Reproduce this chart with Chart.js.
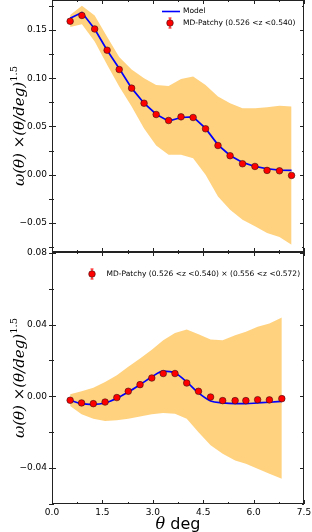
<!DOCTYPE html>
<html><head><meta charset="utf-8">
<script src="https://cdn.jsdelivr.net/npm/chart.js@4/dist/chart.umd.min.js"></script>
<style>
html,body{margin:0;padding:0;background:#fff;width:312px;height:532px;overflow:hidden}
#c1{position:absolute;left:0;top:0}
#c2{position:absolute;left:0;top:240px}
</style></head><body>
<canvas id="c2" width="312" height="292"></canvas>
<canvas id="c1" width="312" height="253"></canvas>
<script>
// ---------- data ----------
const topTheta = [0.54,0.89,1.27,1.64,2.00,2.37,2.74,3.10,3.47,3.84,4.20,4.57,4.94,5.30,5.67,6.04,6.40,6.77,7.13];
const topMocks = [0.159,0.165,0.151,0.129,0.109,0.0897,0.0741,0.0624,0.0562,0.060,0.0593,0.0476,0.0303,0.0197,0.0114,0.0086,0.0045,0.0041,-0.0007];
const topModel = [0.162,0.168,0.151,0.129,0.110,0.0897,0.0741,0.0627,0.0555,0.0593,0.0600,0.0480,0.0310,0.0200,0.0128,0.0086,0.0062,0.0048,0.0045];
const topBandUpper = [0.1655,0.175,0.165,0.143,0.122,0.109,0.100,0.093,0.092,0.0993,0.1017,0.093,0.081,0.074,0.069,0.069,0.070,0.0714,0.0707];
const topBandLower = [0.153,0.156,0.138,0.114,0.0914,0.0707,0.048,0.0303,0.0207,0.0207,0.0172,0.0,-0.0224,-0.0362,-0.0466,-0.0534,-0.0603,-0.0645,-0.0724];

const botTheta = [0.54,0.88,1.23,1.58,1.93,2.27,2.62,2.97,3.31,3.66,4.01,4.36,4.72,5.08,5.45,5.77,6.12,6.47,6.84];
const botMocks = [-0.0022,-0.0037,-0.0041,-0.0032,-0.0007,0.0028,0.0065,0.0102,0.0127,0.0127,0.0074,0.0028,-0.0004,-0.0024,-0.0024,-0.0024,-0.0019,-0.0020,-0.0013];
const botModel = [-0.0022,-0.0041,-0.0045,-0.0037,-0.0011,0.0024,0.0065,0.0108,0.0140,0.0130,0.0080,0.0019,-0.0026,-0.0037,-0.0041,-0.0041,-0.0037,-0.0033,-0.0028];
const botBandUpper = [0.0011,0.0028,0.0048,0.008,0.0117,0.0164,0.021,0.026,0.0313,0.0353,0.0372,0.0346,0.0316,0.0313,0.034,0.036,0.0387,0.0405,0.0439];
const botBandLower = [-0.0054,-0.010,-0.0125,-0.0138,-0.0134,-0.0125,-0.0112,-0.010,-0.0093,-0.0097,-0.0125,-0.020,-0.0273,-0.032,-0.0357,-0.0376,-0.0404,-0.0432,-0.046];

const xTicks = [0,1.5,3,4.5,6,7.5];
const xTickLabels = ['0.0','1.5','3.0','4.5','6.0','7.5'];
const xMinorTicks = [0.75,2.25,3.75,5.25,6.75];
const topYTicks = [-0.05,0,0.05,0.10,0.15];
const topYTickLabels = ['\u22120.05','0.00','0.05','0.10','0.15'];
const topYMinorTicks = [-0.075,-0.025,0.025,0.075,0.125,0.175];
const botYTicks = [-0.04,0,0.04,0.08];
const botYTickLabels = ['\u22120.04','0.00','0.04','0.08'];
const botYMinorTicks = [-0.06,-0.02,0.02,0.06];
const topLegend = ['Model','MD-Patchy (0.526 <z <0.540)'];
const botLegend = ['MD-Patchy (0.526 <z <0.540) \u00d7 (0.556 <z <0.572)'];

// ---------- helpers ----------
Chart.defaults.font.family = "'DejaVu Sans', sans-serif";
Chart.defaults.font.size = 9;
Chart.defaults.color = '#000';
const BAND = '#ffd280';
const pts = (xs, ys) => xs.map((x, i) => ({x, y: ys[i]}));

function drawYTitle(ctx, x, cy) {
  const parts = [
    {t: '\u03c9(\u03b8) ', f: "italic 15px 'DejaVu Serif'", dy: 0},
    {t: '\u00d7', f: "15px 'DejaVu Serif'", dy: 0},
    {t: '(\u03b8/deg)', f: "italic 15px 'DejaVu Serif'", dy: 0},
    {t: '1.5', f: "10px 'DejaVu Serif'", dy: -7}
  ];
  ctx.save();
  let total = 0;
  parts.forEach(p => { ctx.font = p.f; p.w = ctx.measureText(p.t).width; total += p.w; });
  ctx.translate(x, cy);
  ctx.rotate(-Math.PI / 2);
  ctx.fillStyle = '#000';
  ctx.textBaseline = 'alphabetic';
  ctx.textAlign = 'left';
  let cx = -total / 2;
  parts.forEach(p => { ctx.font = p.f; ctx.fillText(p.t, cx, p.dy); cx += p.w; });
  ctx.restore();
}

function markerAt(ctx, x, y) {
  ctx.save();
  ctx.strokeStyle = '#ff0000';
  ctx.lineWidth = 1;
  ctx.beginPath(); ctx.moveTo(x, y - 5); ctx.lineTo(x, y + 5);
  ctx.moveTo(x - 1.5, y - 5); ctx.lineTo(x + 1.5, y - 5);
  ctx.moveTo(x - 1.5, y + 5); ctx.lineTo(x + 1.5, y + 5);
  ctx.stroke();
  ctx.beginPath(); ctx.arc(x, y, 3.3, 0, Math.PI * 2);
  ctx.fillStyle = '#ff0000'; ctx.fill();
  ctx.strokeStyle = '#3a1010'; ctx.lineWidth = 0.6; ctx.stroke();
  ctx.restore();
}

function framePlugin(opts) {
  return {
    id: 'frame',
    afterDraw(chart) {
      const ctx = chart.ctx, a = chart.chartArea;
      const xs = chart.scales.x, ys = chart.scales.y;
      ctx.save();
      ctx.strokeStyle = '#222';
      ctx.lineWidth = 1;
      ctx.strokeRect(a.left + 0.5, a.top + 0.5, a.right - a.left - 1, a.bottom - a.top - 1);
      ctx.beginPath();
      const tickX = (v, len) => {
        const p = Math.round(xs.getPixelForValue(v)) + 0.5;
        if (p < a.left - 1 || p > a.right + 1) return;
        ctx.moveTo(p, a.bottom); ctx.lineTo(p, a.bottom - len);
        ctx.moveTo(p, a.top); ctx.lineTo(p, a.top + len);
      };
      const tickY = (v, len) => {
        const p = Math.round(ys.getPixelForValue(v)) + 0.5;
        if (p < a.top - 1 || p > a.bottom + 1) return;
        ctx.moveTo(a.left - 3, p); ctx.lineTo(a.left + len, p);
        ctx.moveTo(a.right, p); ctx.lineTo(a.right - len, p);
      };
      xTicks.forEach(v => tickX(v, 4));
      xMinorTicks.forEach(v => tickX(v, 2));
      opts.yTicks.forEach(v => tickY(v, 4));
      opts.yMinor.forEach(v => tickY(v, 2));
      ctx.stroke();
      ctx.restore();
      // y title
      drawYTitle(ctx, 24, (a.top + a.bottom) / 2);
      // legend
      ctx.save();
      ctx.font = "7.5px 'DejaVu Sans'";
      ctx.fillStyle = '#000';
      ctx.textBaseline = 'middle';
      ctx.textAlign = 'left';
      if (opts.legend === 'top') {
        ctx.strokeStyle = '#0000ff'; ctx.lineWidth = 1.6;
        ctx.beginPath(); ctx.moveTo(162, a.top + 11.5); ctx.lineTo(180, a.top + 11.5); ctx.stroke();
        ctx.fillText(topLegend[0], 183, a.top + 11.5);
        markerAt(ctx, 170, a.top + 23);
        ctx.fillText(topLegend[1], 183, a.top + 23);
      } else {
        markerAt(ctx, 92, a.top + 22);
        ctx.fillText(botLegend[0], 106.5, a.top + 22);
      }
      ctx.restore();
      if (opts.xTitle) {
        ctx.save();
        ctx.fillStyle = '#000';
        ctx.textBaseline = 'alphabetic';
        const f1 = "italic 16px 'DejaVu Serif'", f2 = "16px 'DejaVu Sans'";
        ctx.font = f1; const w1 = ctx.measureText('\u03b8').width;
        ctx.font = f2; const w2 = ctx.measureText(' deg').width;
        const cx = (a.left + a.right) / 2, x0 = cx - (w1 + w2) / 2;
        ctx.font = f1; ctx.fillText('\u03b8', x0, a.bottom + 25);
        ctx.font = f2; ctx.fillText(' deg', x0 + w1, a.bottom + 25);
        ctx.restore();
      }
    }
  };
}

function makeChart(id, theta, mocks, model, up, lo, yMin, yMax, yTicks, yLabels, yMinor, legend, showX, tension, xHeight, padTop) {
  return new Chart(document.getElementById(id), {
    type: 'scatter',
    data: {
      datasets: [
        {label: 'mocks', data: pts(theta, mocks), showLine: false, pointRadius: 3.3, pointHoverRadius: 3.3,
          backgroundColor: '#ff0000', borderColor: '#3a1010', borderWidth: 0.6, order: 0},
        {label: 'Model', data: pts(theta, model), showLine: true, pointRadius: 0, borderColor: '#0000ff',
          borderWidth: 1.7, tension: tension, cubicInterpolationMode: tension ? 'monotone' : 'default', fill: false, order: 1},
        {label: 'up', data: pts(theta, up), showLine: true, pointRadius: 0, borderColor: 'rgba(0,0,0,0)',
          borderWidth: 0.01, backgroundColor: BAND, fill: '+1', order: 2},
        {label: 'lo', data: pts(theta, lo), showLine: true, pointRadius: 0, borderColor: 'rgba(0,0,0,0)',
          borderWidth: 0.01, fill: false, order: 3}
      ]
    },
    options: {
      responsive: false, animation: false, events: [],
      layout: {autoPadding: false, padding: {left: 0, right: 8, top: padTop, bottom: 0}},
      plugins: {legend: {display: false}, tooltip: {enabled: false}},
      scales: {
        x: {
          type: 'linear', min: 0, max: 7.5,
          grid: {display: false, drawTicks: false}, border: {display: false},
          ticks: {display: showX, padding: 3, font: {size: 9}, autoSkip: false, maxRotation: 0,
            callback: (v) => { const i = xTicks.findIndex(t => Math.abs(t - v) < 1e-9); return i >= 0 ? xTickLabels[i] : ''; }},
          afterBuildTicks: (s) => { s.ticks = xTicks.map(v => ({value: v})); },
          afterFit: (s) => { s.height = xHeight; s.paddingLeft = 0; s.paddingRight = 0; }
        },
        y: {
          type: 'linear', min: yMin, max: yMax,
          grid: {display: false, drawTicks: false}, border: {display: false},
          ticks: {padding: 5, font: {size: 9}, autoSkip: false,
            callback: (v) => { const i = yTicks.findIndex(t => Math.abs(t - v) < 1e-9); return i >= 0 ? yLabels[i] : ''; }},
          afterBuildTicks: (s) => { s.ticks = yTicks.map(v => ({value: v})); },
          afterFit: (s) => { s.width = 52; s.paddingTop = 0; s.paddingBottom = 0; }
        }
      }
    },
    plugins: [framePlugin({yTicks: yTicks, yMinor: yMinor, legend: legend, xTitle: showX})]
  });
}

makeChart('c1', topTheta, topMocks, topModel, topBandUpper, topBandLower, -0.08, 0.181,
  topYTicks, topYTickLabels, topYMinorTicks, 'top', false, 0, 1, 0);
makeChart('c2', botTheta, botMocks, botModel, botBandUpper, botBandLower, -0.06, 0.0804,
  botYTicks, botYTickLabels, botYMinorTicks, 'bot', true, 0.4, 28, 12);
</script>
</body></html>
